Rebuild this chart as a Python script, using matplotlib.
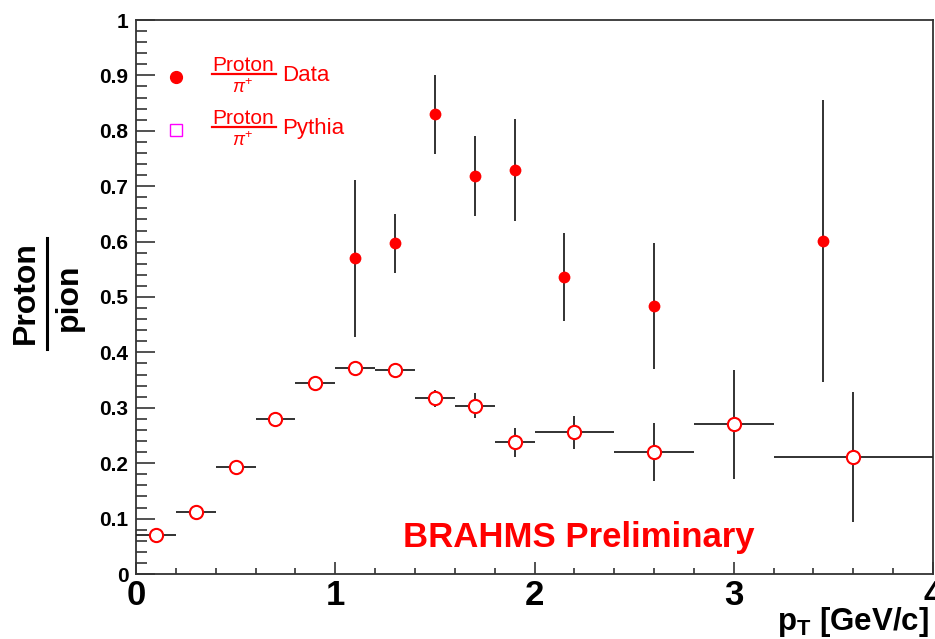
"""
Proton / pi+ ratio vs pT: BRAHMS preliminary data against Pythia.
Output: out.png
"""

import matplotlib
matplotlib.use("Agg")
import matplotlib.pyplot as plt
from matplotlib.lines import Line2D
from matplotlib.ticker import MultipleLocator, FixedLocator

plt.rcParams["font.family"] = ["Liberation Sans", "DejaVu Sans"]
plt.rcParams["mathtext.fontset"] = "custom"
plt.rcParams["mathtext.rm"] = "Liberation Sans"
plt.rcParams["mathtext.bf"] = "Liberation Sans:bold"
plt.rcParams["mathtext.it"] = "Liberation Sans:italic"

# measured ratio (filled)
DATA_PT = [1.1, 1.3, 1.5, 1.7, 1.9, 2.15, 2.6, 3.45]
DATA_RATIO = [0.570, 0.597, 0.830, 0.719, 0.730, 0.536, 0.484, 0.601]
DATA_ERR = [0.142, 0.053, 0.071, 0.072, 0.092, 0.080, 0.114, 0.254]

# pythia (open), x error = half bin width
PYTHIA_PT = [0.1, 0.3, 0.5, 0.7, 0.9, 1.1, 1.3, 1.5, 1.7, 1.9, 2.2, 2.6, 3.0, 3.6]
PYTHIA_RATIO = [0.070, 0.112, 0.193, 0.280, 0.344, 0.371, 0.368,
                0.317, 0.304, 0.238, 0.256, 0.220, 0.270, 0.211]
PYTHIA_PT_ERR = [0.1, 0.1, 0.1, 0.1, 0.1, 0.1, 0.1, 0.1, 0.1, 0.1, 0.2, 0.2, 0.2, 0.4]
PYTHIA_ERR = [0, 0, 0, 0, 0, 0, 0, 0.015, 0.023, 0.026, 0.030, 0.052, 0.098, 0.118]

X_TICKS = [0, 1, 2, 3, 4]
Y_TICKS = [0, 0.1, 0.2, 0.3, 0.4, 0.5, 0.6, 0.7, 0.8, 0.9, 1.0]
Y_TICKLABELS = ["0", "0.1", "0.2", "0.3", "0.4", "0.5", "0.6", "0.7", "0.8", "0.9", "1"]

W, H = 935, 639
RED = "#ff0000"
AXIS_COL = "#333333"
ERR_COL = "#222222"


def fx(px):
    return px / W


def fy(py):
    return 1 - py / H


def main():
    fig = plt.figure(figsize=(W / 100, H / 100), dpi=100)
    fig.patch.set_facecolor("white")
    ax = fig.add_axes([fx(136), fy(574), (933 - 136) / W, (574 - 20) / H])

    ax.errorbar(PYTHIA_PT, PYTHIA_RATIO, xerr=PYTHIA_PT_ERR, yerr=PYTHIA_ERR,
                fmt="o", ms=9.5, mfc="white", mec=RED, mew=1.5,
                ecolor=ERR_COL, elinewidth=1.3, capsize=0, zorder=3)
    ax.errorbar(DATA_PT, DATA_RATIO, yerr=DATA_ERR,
                fmt="o", ms=8.5, mfc=RED, mec=RED, mew=0,
                ecolor=ERR_COL, elinewidth=1.3, capsize=2.5, capthick=1.3, zorder=3)

    ax.set_xlim(0, 4)
    ax.set_ylim(0, 1)
    ax.xaxis.set_major_locator(FixedLocator(X_TICKS))
    ax.xaxis.set_minor_locator(MultipleLocator(0.2))
    ax.yaxis.set_major_locator(FixedLocator(Y_TICKS))
    ax.yaxis.set_minor_locator(MultipleLocator(0.02))
    ax.set_yticklabels(Y_TICKLABELS)
    ax.set_xticklabels([str(t) for t in X_TICKS])

    for s in ax.spines.values():
        s.set_color(AXIS_COL)
        s.set_linewidth(1.3)
    ax.tick_params(axis="x", which="major", direction="in", length=9, width=1.2,
                   color=AXIS_COL, labelsize=25, pad=3.5)
    ax.tick_params(axis="x", which="minor", direction="in", length=4.5, width=1.2,
                   color=AXIS_COL)
    ax.tick_params(axis="y", which="major", direction="in", length=14, width=1.2,
                   color=AXIS_COL, labelsize=15, pad=5.5)
    ax.tick_params(axis="y", which="minor", direction="in", length=8, width=1.2,
                   color=AXIS_COL)
    for lab in ax.get_xticklabels() + ax.get_yticklabels():
        lab.set_fontweight("bold")

    # y title: Proton over pion
    fig.text(fx(26), fy(293), "Proton", rotation=90, fontsize=23, fontweight="bold",
             ha="center", va="center")
    fig.add_artist(Line2D([fx(47), fx(47)], [fy(238), fy(349)], color="black", lw=2.2))
    fig.text(fx(69), fy(297), "pion", rotation=90, fontsize=23, fontweight="bold",
             ha="center", va="center")

    # x title
    fig.text(fx(929), fy(630), r"$\mathbf{p_{T}}$ [GeV/c]", fontsize=22.5,
             fontweight="bold", ha="right", va="baseline")

    # legend by hand
    ax.plot([0.05], [0.897], "o", ms=8.5, color=RED, transform=ax.transAxes, clip_on=False)
    ax.plot([0.05], [0.801], "s", ms=8, mfc="none", mec="#ff00ff", mew=1.0,
            transform=ax.transAxes, clip_on=False)
    for base, label in [(71, "Data"), (124, "Pythia")]:
        fig.text(fx(212), fy(base), "Proton", fontsize=15, color=RED,
                 ha="left", va="baseline")
        fig.add_artist(Line2D([fx(212), fx(276)], [fy(base + 3), fy(base + 3)],
                              color=RED, lw=1.6))
        fig.text(fx(243), fy(base + 17), r"$\pi^{+}$", fontsize=13, color=RED,
                 ha="center", va="center")
        fig.text(fx(282), fy(base + 10), label, fontsize=16, color=RED,
                 ha="left", va="baseline")

    fig.text(fx(403), fy(547), "BRAHMS Preliminary", fontsize=25, fontweight="bold",
             color=RED, ha="left", va="baseline")

    fig.savefig("out.png", dpi=100, facecolor="white")
    plt.close(fig)


if __name__ == "__main__":
    main()
